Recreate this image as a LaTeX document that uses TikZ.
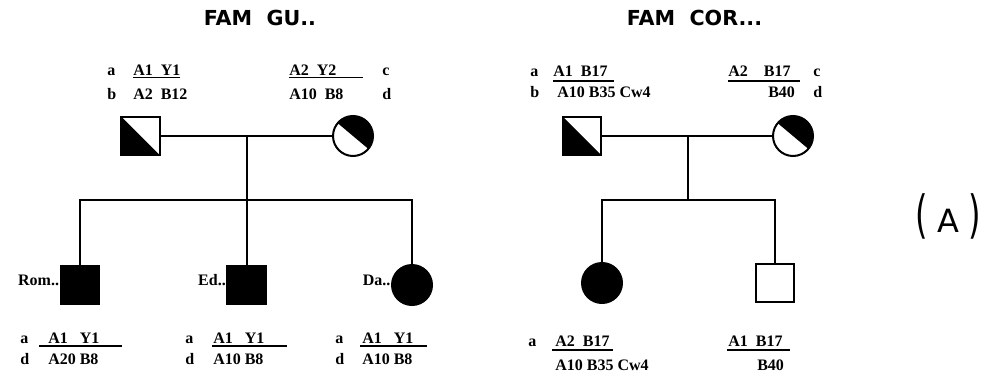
\documentclass[tikz,border=0pt]{standalone}
\usepackage{fontspec}
\usepackage{graphicx}
\setmainfont{Liberation Serif}
\newfontfamily\titlefont{DejaVu Sans}
\usetikzlibrary{positioning,calc}

\begin{document}
\begin{tikzpicture}[
  x=0.75pt, y=0.75pt,
  font=\bfseries\fontsize{12}{14}\selectfont,
  person/.style={draw, line width=1.5pt, inner sep=0pt, outer sep=0pt},
  male/.style={person, rectangle, minimum size=29pt},
  female/.style={person, circle, minimum size=30pt},
  aff/.style={fill=black},
  kin/.style={line width=1.5pt},
  hap/.style={anchor=base west, inner sep=0pt},
  uline/.style={line width=1pt},
  who/.style={anchor=base east, inner sep=1pt},
  fam/.style={font=\titlefont\bfseries\fontsize{15.5}{18}\selectfont},
  tagf/.style={font=\titlefont\fontsize{24}{28}\selectfont, inner sep=0pt}
]
\useasboundingbox (0,0) rectangle (1005,383);

% ---------------- left: FAM GU.. ----------------
\node[fam] (guT) at (260,365) {FAM\ \ GU..};

\node[male] (guF) at (140.5,247) {};
\node[female] (guM) at (353,247) {};
\fill (guF.north west) -- (guF.south west) -- (guF.south east) -- cycle;
\fill (guM.-40) arc[start angle=-40, end angle=140, radius=15pt] -- cycle;

\coordinate (guC) at ($(guF)!.5!(guM)$);
\coordinate (guS) at ($(guC)+(0,-64)$);
\draw[kin] (guF.east) -- (guM.west);
\draw[kin] (guC) -- (guS);

\node[male, aff] (rom) at (80,98) {};
\node[male, aff] (ed) at (guS |- rom) {};
\node[female, aff] (da) at (412,98) {};
\draw[kin] (rom.north) -- (rom.north |- guS) -- (da.north |- guS) -- (da.north);
\draw[kin] (guS) -- (ed.north);

\node[who] (romN) at (rom.west) {Rom..};
\node[who] (edN) at (ed.west) {Ed..};
\node[who] (daN) at (da.west) {Da..};

% parents' haplotypes
\node[hap] (guFaL) at (107,308) {a};
\node[hap] (guFa) at (133,308) {A1\enskip Y1};
\node[hap] (guFbL) at (107,284) {b};
\node[hap] (guFb) at (133,284) {A2\enskip B12};
\draw[uline] ([shift={(0,-2.5)}]guFa.base west) -- ([shift={(47,-2.5)}]guFa.base west);

\node[hap] (guMa) at (289,308) {A2\enskip Y2};
\node[hap] (guMaL) at (382,308) {c};
\node[hap] (guMb) at (289,284) {A10\enskip B8};
\node[hap] (guMbL) at (382,284) {d};
\draw[uline] ([shift={(0,-2.5)}]guMa.base west) -- ([shift={(74,-2.5)}]guMa.base west);

% children's haplotypes
\node[hap] (romaL) at (20,40) {a};
\node[hap] (roma) at (48,40) {A1\enskip\ Y1};
\node[hap] (romdL) at (20,19) {d};
\node[hap] (romd) at (48,19) {A20 B8};
\draw[uline] ([shift={(-9,-3)}]roma.base west) -- ([shift={(74,-3)}]roma.base west);

\node[hap] (edaL) at (185,40) {a};
\node[hap] (eda) at (213,40) {A1\enskip\ Y1};
\node[hap] (eddL) at (185,19) {d};
\node[hap] (edd) at (213,19) {A10 B8};
\draw[uline] ([shift={(-1,-3)}]eda.base west) -- ([shift={(74,-3)}]eda.base west);

\node[hap] (daaL) at (335,40) {a};
\node[hap] (daa) at (362,40) {A1\enskip\ Y1};
\node[hap] (dadL) at (335,19) {d};
\node[hap] (dad) at (362,19) {A10 B8};
\draw[uline] ([shift={(-2,-3)}]daa.base west) -- ([shift={(65,-3)}]daa.base west);

% ---------------- right: FAM COR... ----------------
\node[fam] (corT) at (694.5,365) {FAM\ \ COR...};

\node[male] (corF) at (582,247) {};
\node[female] (corM) at (793,247) {};
\fill (corF.north west) -- (corF.south west) -- (corF.south east) -- cycle;
\fill (corM.-40) arc[start angle=-40, end angle=140, radius=15pt] -- cycle;

\coordinate (corC) at ($(corF)!.5!(corM)$);
\coordinate (corS) at ($(corC)+(0,-64)$);
\draw[kin] (corF.east) -- (corM.west);
\draw[kin] (corC) -- (corS);

\node[female, aff] (corD) at (602,100) {};
\node[male] (corB) at (775,100) {};
\draw[kin] (corD.north) -- (corD.north |- corS) -- (corB.north |- corS) -- (corB.north);

% parents' haplotypes
\node[hap] (corFaL) at (530,307) {a};
\node[hap] (corFa) at (553,307) {A1\enskip B17};
\node[hap] (corFbL) at (530,286) {b};
\node[hap] (corFb) at (557,286) {A10 B35 Cw4};
\draw[uline] ([shift={(0,-5)}]corFa.base west) -- ([shift={(61,-5)}]corFa.base west);

\node[hap] (corMa) at (728,307) {A2\quad B17};
\node[hap] (corMaL) at (813,307) {c};
\node[hap] (corMb) at (768,286) {B40};
\node[hap] (corMbL) at (813,286) {d};
\draw[uline] ([shift={(0,-5)}]corMa.base west) -- ([shift={(72,-5)}]corMa.base west);

% children's haplotypes
\node[hap] (corDaL) at (528,37) {a};
\node[hap] (corDa) at (555,37) {A2\enskip B17};
\node[hap] (corDb) at (555,13) {A10 B35 Cw4};
\draw[uline] ([shift={(-3,-4)}]corDa.base west) -- ([shift={(58,-4)}]corDa.base west);

\node[hap] (corBa) at (728,37) {A1\enskip B17};
\node[hap] (corBb) at (757,13) {B40};
\draw[uline] ([shift={(-1,-4)}]corBa.base west) -- ([shift={(62,-4)}]corBa.base west);

% panel tag
\node[tagf, anchor=base] (tag) at (948,151)
  {\scalebox{1}[1.6]{(}\hspace{7pt}A\hspace{7pt}\scalebox{1}[1.6]{)}};

\end{tikzpicture}
\end{document}
